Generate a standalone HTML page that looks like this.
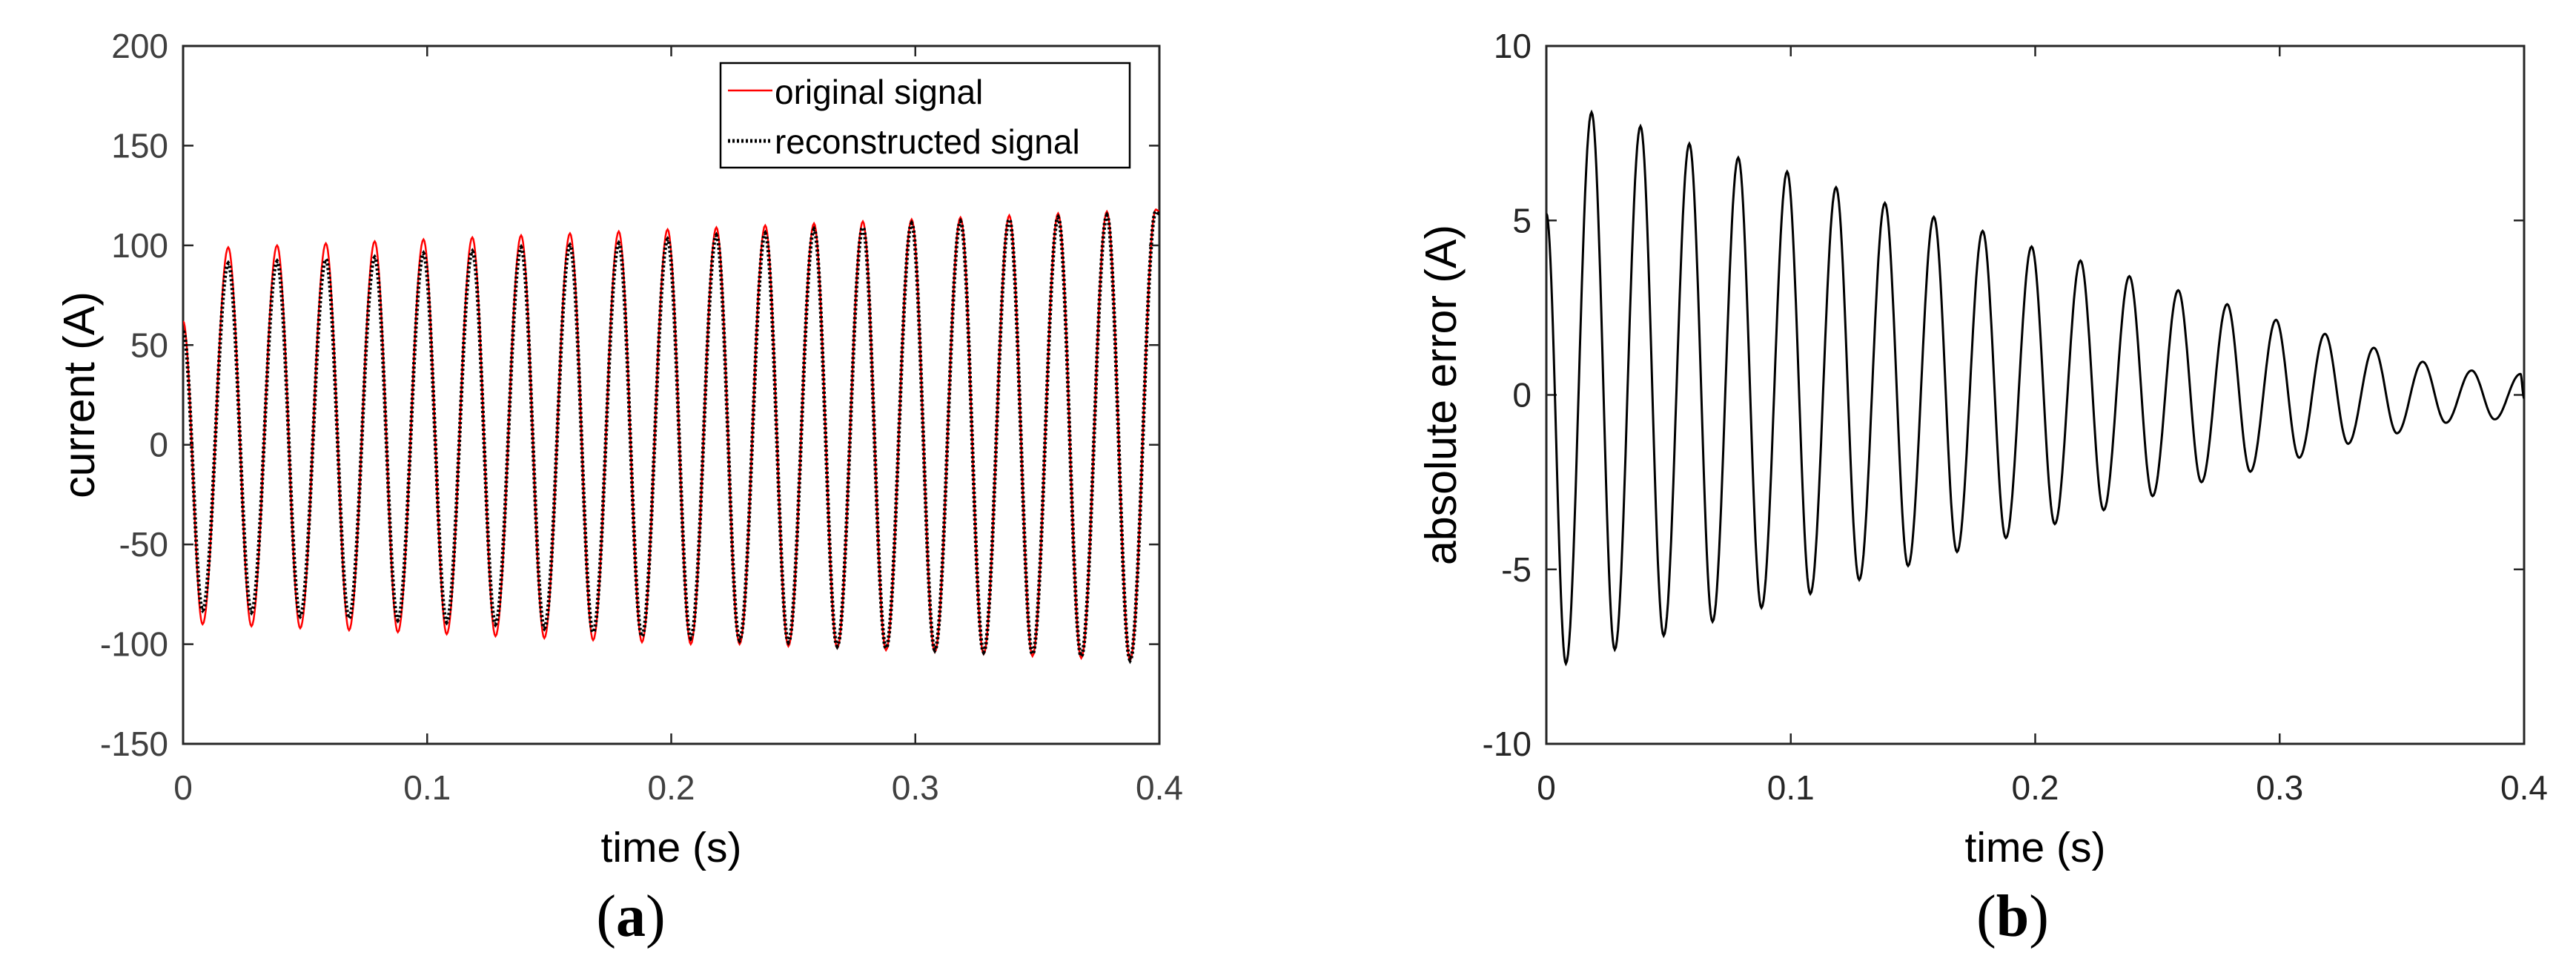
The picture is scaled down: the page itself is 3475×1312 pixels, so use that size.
<!DOCTYPE html>
<html><head><meta charset="utf-8">
<style>
html,body{margin:0;padding:0;background:#fff;}
svg{display:block;font-family:"Liberation Sans",Arial,sans-serif;}
</style></head>
<body>
<svg id="fig" width="3475" height="1312" viewBox="0 0 3475 1312" xmlns="http://www.w3.org/2000/svg">
  <g id="panelA"></g>
  <g id="panelB"></g>
  <text x="851" y="1262" font-family="Liberation Serif,serif" font-size="80" text-anchor="middle" fill="#000">(<tspan font-weight="bold">a</tspan>)</text>
  <text x="2715" y="1262" font-family="Liberation Serif,serif" font-size="80" text-anchor="middle" fill="#000">(<tspan font-weight="bold">b</tspan>)</text>
</svg>
<script>
// ---- data ----
const xTicks = [0, 0.1, 0.2, 0.3, 0.4];
const xTickLabels = ["0", "0.1", "0.2", "0.3", "0.4"];
const yTicksA = [-150, -100, -50, 0, 50, 100, 150, 200];
const yTicksB = [-10, -5, 0, 5, 10];
const cycleStart = 0.008;      // first trough time (s)
const cyclePeriod = 0.02;      // 50 Hz
const peakOffset = 0.0105;     // peak after trough (s)
const origStart = 62, origEnd = 117;
const origPeaks = [99,100,101,102,103,104,105,106,107,108,109,110,111,112,113,114,115,116,117,118];
const origTroughs = [-90,-91,-92,-93,-94,-95,-96,-97,-98,-99,-100,-100,-101,-102,-103,-104,-105,-106,-107,-108];
const recStart = 57, recEnd = 116;
const recPeaks = [91,92,93,94,96,97,99,100,101,103,105,106,108,109,111,112,113,114,115,117];
const recTroughs = [-83,-84,-86,-87,-88,-89,-90,-92,-94,-96,-97,-98,-99,-101,-102,-103,-104,-105,-106,-108];
const errStart = 5.2, errEnd = -0.1;
const errPeaks = [8.1,7.7,7.2,6.8,6.4,5.95,5.5,5.1,4.7,4.25,3.85,3.4,3.0,2.6,2.15,1.75,1.35,0.95,0.7,0.6];
const errTroughs = [-7.7,-7.3,-6.9,-6.5,-6.1,-5.7,-5.3,-4.9,-4.5,-4.1,-3.7,-3.3,-2.9,-2.5,-2.2,-1.8,-1.4,-1.1,-0.8,-0.7];

const NS = "http://www.w3.org/2000/svg";
function mk(tag, attrs, parent){ const e=document.createElementNS(NS,tag); for(const k in attrs) e.setAttribute(k,attrs[k]); parent.appendChild(e); return e; }

function keyframes(start, troughs, peaks, end){
  const k=[[0,start]];
  for(let i=0;i<troughs.length;i++){
    k.push([cycleStart+i*cyclePeriod, troughs[i]]);
    k.push([cycleStart+i*cyclePeriod+peakOffset, peaks[i]]);
  }
  k.push([0.4,end]);
  return k;
}
function samples(kf){
  const pts=[];
  for(let j=0;j<kf.length-1;j++){
    const [t0,v0]=kf[j],[t1,v1]=kf[j+1];
    const n=24;
    for(let s=0;s<n;s++){
      const u=s/n, w=(1-Math.cos(Math.PI*u))/2;
      pts.push([t0+(t1-t0)*u, v0+(v1-v0)*w]);
    }
  }
  pts.push(kf[kf.length-1]);
  return pts;
}

function axes(g, L, R, T, B, yMin, yMax, yTicks, yLabel, ylabX, tickColor){
  const sx=t=>L+(t-0)/(0.4-0)*(R-L);
  const sy=v=>B-(v-yMin)/(yMax-yMin)*(B-T);
  const clip=mk("clipPath",{id:"c"+L},g);
  mk("rect",{x:L,y:T,width:R-L,height:B-T},clip);
  xTicks.forEach((t,i)=>{
    const x=sx(t);
    const tk=mk("path",{d:`M${x} ${B}V${B-14}M${x} ${T}V${T+14}`,stroke:"#262626","stroke-width":2.5},g);
    
    
    const tx=mk("text",{x:x,y:1078,"font-size":46,"text-anchor":"middle",fill:tickColor},g);
    tx.textContent=xTickLabels[i];
    
    
  });
  yTicks.forEach(v=>{
    const y=sy(v);
    const tk=mk("path",{d:`M${L} ${y}H${L+14}M${R} ${y}H${R-14}`,stroke:"#262626","stroke-width":2.5},g);
    
    
    const tx=mk("text",{x:L-20,y:y+16,"font-size":46,"text-anchor":"end",fill:tickColor},g);
    tx.textContent=String(v);
    
    
  });
  const box=mk("rect",{x:L,y:T,width:R-L,height:B-T,fill:"none",stroke:"#262626","stroke-width":3},g);
  
  
  const xl=mk("text",{x:(L+R)/2,y:1162,"font-size":57,"text-anchor":"middle",fill:"#000"},g);
  xl.textContent="time (s)";
  
  
  const yl=mk("text",{x:0,y:0,"font-size":59,"text-anchor":"middle",fill:"#000",transform:`translate(${ylabX},${(T+B)/2}) rotate(-90)`},g);
  yl.textContent=yLabel;
  
  
  return {sx,sy,clip:"url(#c"+L+")"};
}
function line(g, ax, pts, attrs, name){
  const d=pts.map((p,i)=>(i?"L":"M")+ax.sx(p[0]).toFixed(1)+" "+ax.sy(p[1]).toFixed(1)).join("");
  const a=Object.assign({d:d,fill:"none","clip-path":ax.clip},attrs);
  const p=mk("path",a,g);
  
  
}

// Panel A
const gA=document.getElementById("panelA");
const axA=axes(gA,247,1564,62,1003,-150,200,yTicksA,"current (A)",127,"#404040");
line(gA,axA,samples(keyframes(origStart,origTroughs,origPeaks,origEnd)),{stroke:"#ff0000","stroke-width":2.5},"original-signal-line");
line(gA,axA,samples(keyframes(recStart,recTroughs,recPeaks,recEnd)),{stroke:"#000","stroke-width":5,"stroke-dasharray":"3 3"},"reconstructed-signal-line");
// legend
const lg=mk("g",{},gA);


mk("rect",{x:972,y:85,width:552,height:141,fill:"#fff",stroke:"#000","stroke-width":2.5},lg);
const l1=mk("path",{d:"M982 122H1042",stroke:"#ff0000","stroke-width":2.5},lg);


const t1=mk("text",{x:1045,y:140,"font-size":46,fill:"#000"},lg);
t1.textContent="original signal";


const l2=mk("path",{d:"M982 190H1042",stroke:"#000","stroke-width":5,"stroke-dasharray":"3 3"},lg);


const t2=mk("text",{x:1045,y:207,"font-size":46,fill:"#000"},lg);
t2.textContent="reconstructed signal";



// Panel B
const gB=document.getElementById("panelB");
const axB=axes(gB,2086,3405,62,1003,-10,10,yTicksB,"absolute error (A)",1964,"#262626");
line(gB,axB,samples(keyframes(errStart,errTroughs,errPeaks,errEnd)),{stroke:"#000","stroke-width":3},"absolute-error-line");
</script>
</body></html>
